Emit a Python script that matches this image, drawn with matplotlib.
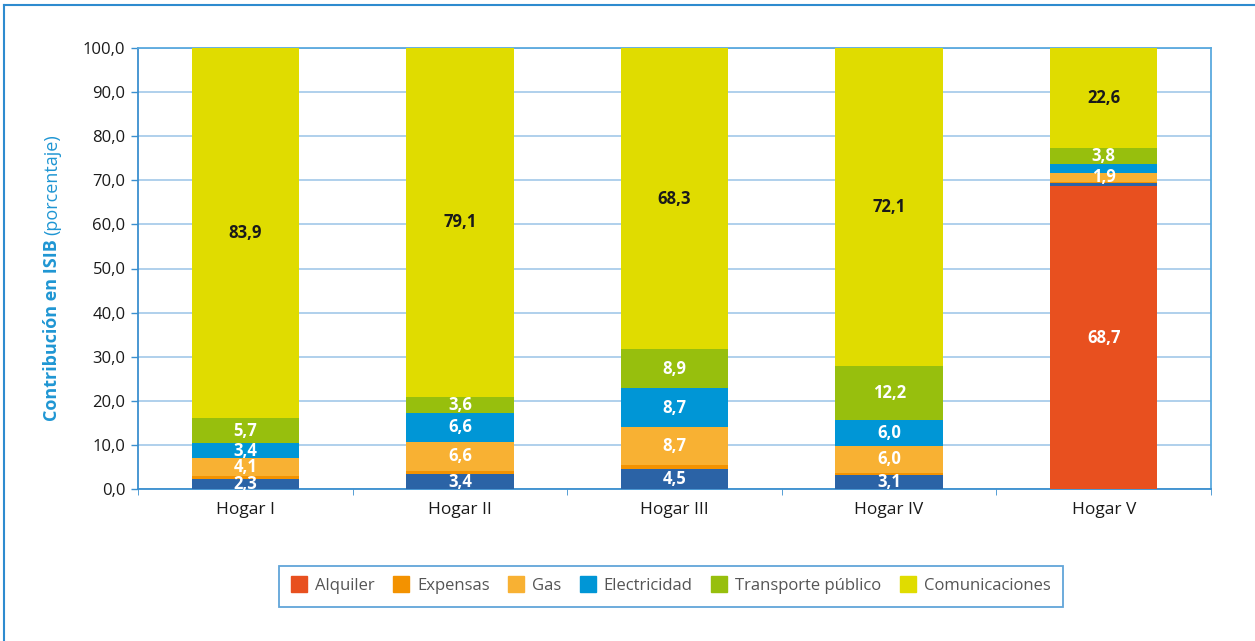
import matplotlib
matplotlib.use("Agg")
import matplotlib.pyplot as plt
import numpy as np
from matplotlib.lines import Line2D

plt.rcParams['font.family'] = ['Open Sans', 'DejaVu Sans']

categories = ["Hogar I", "Hogar II", "Hogar III", "Hogar IV", "Hogar V"]

# stacked from bottom to top
alquiler       = [0.0, 0.0, 0.0, 0.0, 68.7]
sin_leyenda    = [2.3, 3.4, 4.5, 3.1, 0.8]
expensas       = [0.6, 0.7, 0.9, 0.6, 0.2]
gas            = [4.1, 6.6, 8.7, 6.0, 1.9]
electricidad   = [3.4, 6.6, 8.7, 6.0, 2.0]
transporte     = [5.7, 3.6, 8.9, 12.2, 3.8]
comunicaciones = [83.9, 79.1, 68.3, 72.1, 22.6]

# which values are printed on the bars
show_alquiler       = [False, False, False, False, True]
show_sin_leyenda    = [True, True, True, True, False]
show_expensas       = [False, False, False, False, False]
show_gas            = [True, True, True, True, True]
show_electricidad   = [True, True, True, True, False]
show_transporte     = [True, True, True, True, True]
show_comunicaciones = [True, True, True, True, True]

yticks = [0, 10, 20, 30, 40, 50, 60, 70, 80, 90, 100]
ytick_labels = ["0,0", "10,0", "20,0", "30,0", "40,0", "50,0", "60,0", "70,0", "80,0", "90,0", "100,0"]

series = [
    ("Alquiler", alquiler, show_alquiler, "#E8501F", "white"),
    ("_nolegend_", sin_leyenda, show_sin_leyenda, "#2B63A6", "white"),
    ("Expensas", expensas, show_expensas, "#F39200", "white"),
    ("Gas", gas, show_gas, "#F8B133", "white"),
    ("Electricidad", electricidad, show_electricidad, "#0096D6", "white"),
    ("Transporte público", transporte, show_transporte, "#97BF0D", "white"),
    ("Comunicaciones", comunicaciones, show_comunicaciones, "#E0DC00", "#1a1a1a"),
]

W, H = 1255, 641
fig = plt.figure(figsize=(W / 100, H / 100), dpi=100)
ax = fig.add_axes([138 / W, 1 - 489 / H, (1211 - 138) / W, (489 - 48) / H])

spine_blue = "#3A8FCF"
grid_blue = "#A9CDEA"

x = np.arange(len(categories))
bottom = np.zeros(len(categories))
handles = []
for name, vals, show, col, tcol in series:
    vals = np.array(vals, dtype=float)
    ax.bar(x, vals, width=0.5, bottom=bottom, color=col, label=name, zorder=3, linewidth=0)
    for i, v in enumerate(vals):
        if show[i]:
            txt = f"{v:.1f}".replace(".", ",")
            ax.text(x[i], bottom[i] + v / 2, txt, ha="center", va="center",
                    color=tcol, fontsize=12, fontweight="bold", zorder=5)
    if name != "_nolegend_":
        handles.append(Line2D([], [], marker="s", linestyle="none", markersize=11,
                              markerfacecolor=col, markeredgecolor=col, label=name))
    bottom += vals

ax.set_xlim(-0.5, 4.5)
ax.set_ylim(0, 100)
ax.set_yticks(yticks)
ax.set_yticklabels(ytick_labels, fontsize=12, color="#1a1a1a")
ax.set_xticks(x)
ax.set_xticklabels(categories, fontsize=12.5, color="#1a1a1a")
ax.set_xticks(np.arange(-0.5, 5.0, 1.0), minor=True)
ax.tick_params(axis="x", which="major", length=0, pad=9)
ax.tick_params(axis="x", which="minor", length=4, color=spine_blue, direction="out")
ax.tick_params(axis="y", length=5, color=spine_blue, direction="out", pad=4, width=1)

ax.yaxis.grid(True, color=grid_blue, linewidth=1.3, zorder=0)
ax.set_axisbelow(True)
for s in ["left", "bottom"]:
    ax.spines[s].set_color(spine_blue)
    ax.spines[s].set_linewidth(1.3)
for s in ["top", "right"]:
    ax.spines[s].set_color("#5AA9DE")
    ax.spines[s].set_linewidth(1.3)

leg = fig.legend(handles=handles, loc="center", bbox_to_anchor=(671 / W, 1 - 586 / H),
                 ncol=6, frameon=True, fontsize=12, handletextpad=0.5,
                 columnspacing=1.15, borderpad=0.75, handlelength=0.9, fancybox=False)
leg.get_frame().set_edgecolor(spine_blue)
leg.get_frame().set_linewidth(1.3)
for t in leg.get_texts():
    t.set_color("#555555")

# figure border (top and left)
fig.add_artist(Line2D([4 / W, 4 / W], [0, 1 - 5 / H], transform=fig.transFigure,
                      color="#2E8BCF", linewidth=1.5))
fig.add_artist(Line2D([4 / W, 1], [1 - 5 / H, 1 - 5 / H], transform=fig.transFigure,
                      color="#2E8BCF", linewidth=1.5))

# y label: bold part + regular part
ylab_col = "#1F96D3"
xl = 52 / W
t1 = fig.text(xl, 0.0, "Contribución en ISIB", rotation=90, ha="center", va="bottom",
              fontsize=13, fontweight="bold", color=ylab_col)
t2 = fig.text(xl, 0.0, "(porcentaje)", rotation=90, ha="center", va="bottom",
              fontsize=13, color=ylab_col)
fig.canvas.draw()
r = fig.canvas.get_renderer()
h1 = t1.get_window_extent(r).height
h2 = t2.get_window_extent(r).height
gap = 4
total = h1 + gap + h2
center_px = H - 277.5
y1 = center_px - total / 2
t1.set_position((xl, y1 / H))
t2.set_position((xl, (y1 + h1 + gap) / H))

fig.savefig("out.png", dpi=100)
